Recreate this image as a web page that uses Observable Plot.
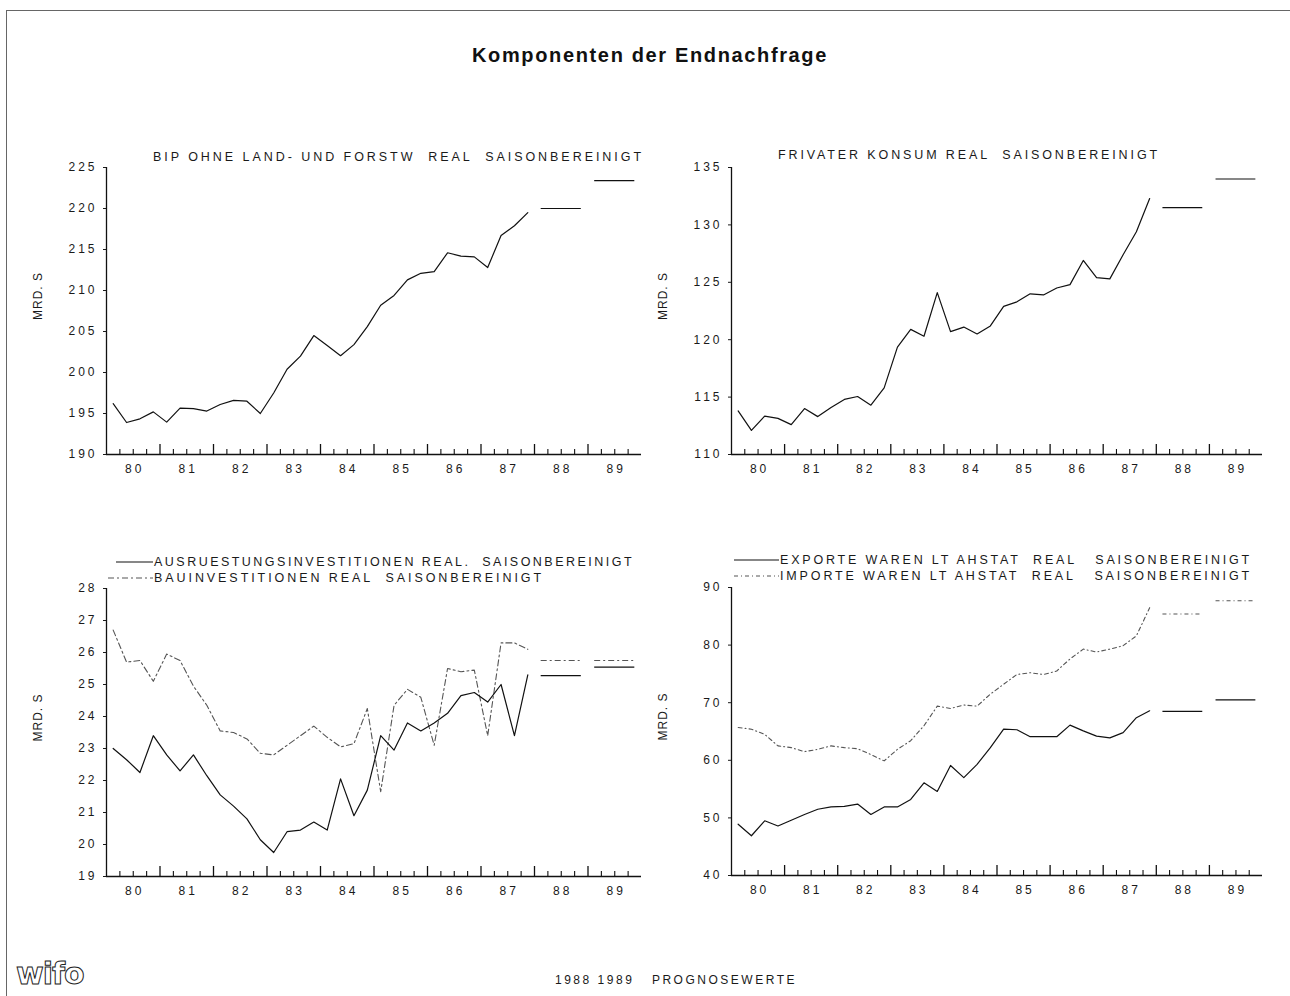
<!DOCTYPE html>
<html>
<head>
<meta charset="utf-8">
<script src="https://cdn.jsdelivr.net/npm/d3@7"></script>
<script src="https://cdn.jsdelivr.net/npm/@observablehq/plot@0.6"></script>
<style>
  html, body { margin: 0; padding: 0; background: #fff; }
  #page { position: relative; width: 1290px; height: 996px; overflow: hidden; background: #fff;
          font-family: "Liberation Sans", Arial, sans-serif; color: #1a1a1a; }
  .abs { position: absolute; white-space: pre; line-height: 1; }
  .plot { position: absolute; }
  #frame { position: absolute; left: 6px; top: 10px; width: 1300px; height: 1000px;
           border-top: 1.5px solid #666; border-left: 1.5px solid #666; }
  .leg { position: absolute; display: flex; align-items: center; white-space: pre; line-height: 1; }
  .leg svg { display: block; }
  .leg span { white-space: pre; }
</style>
</head>
<body>
<div id="page">
  <div id="frame"></div>
</div>
<script>
// ---------------- DATA ----------------
const startYear = 1980;            // first quarter = 1980 Q1, quarterly to 1987 Q4
const yearLabels = [1980, 1981, 1982, 1983, 1984, 1985, 1986, 1987, 1988, 1989];
const forecastYears = [1988, 1989];

const bip = [196.2, 193.9, 194.35, 195.2, 193.95, 195.65, 195.6, 195.3,
             196.1, 196.6, 196.5, 195.0, 197.5, 200.4, 202.0, 204.5,
             203.3, 202.05, 203.4, 205.6, 208.2, 209.4, 211.3, 212.1,
             212.3, 214.6, 214.2, 214.1, 212.8, 216.7, 217.9, 219.5];
const bipForecast = [220.0, 223.4];

const konsum = [113.8, 112.1, 113.35, 113.15, 112.6, 114.0, 113.3, 114.1,
                114.8, 115.05, 114.3, 115.8, 119.35, 120.9, 120.3, 124.1,
                120.7, 121.1, 120.5, 121.2, 122.9, 123.3, 124.0, 123.9,
                124.5, 124.8, 126.9, 125.4, 125.3, 127.4, 129.4, 132.3];
const konsumForecast = [131.5, 134.0];

const ausruestung = [23.0, 22.65, 22.25, 23.4, 22.8, 22.3, 22.8, 22.15,
                     21.55, 21.2, 20.8, 20.15, 19.75, 20.4, 20.45, 20.7,
                     20.45, 22.05, 20.9, 21.7, 23.4, 22.95, 23.8, 23.55,
                     23.8, 24.1, 24.65, 24.75, 24.45, 25.0, 23.4, 25.3];
const ausruestungForecast = [25.28, 25.54];

const bau = [26.7, 25.7, 25.75, 25.1, 25.95, 25.75, 24.95, 24.35,
             23.55, 23.5, 23.3, 22.85, 22.8, 23.1, 23.4, 23.7,
             23.35, 23.05, 23.15, 24.25, 21.65, 24.35, 24.85, 24.6,
             23.1, 25.5, 25.4, 25.45, 23.4, 26.3, 26.3, 26.1];
const bauForecast = [25.75, 25.75];

const exporte = [48.9, 46.9, 49.5, 48.6, 49.6, 50.6, 51.5, 51.9,
                 52.0, 52.4, 50.6, 51.9, 51.9, 53.2, 56.1, 54.6,
                 59.1, 57.0, 59.3, 62.2, 65.4, 65.3, 64.1, 64.1,
                 64.1, 66.1, 65.1, 64.2, 63.9, 64.8, 67.4, 68.6];
const exporteForecast = [68.5, 70.5];

const importe = [65.7, 65.4, 64.5, 62.5, 62.2, 61.5, 61.9, 62.5,
                 62.2, 62.0, 61.0, 59.9, 61.9, 63.4, 66.0, 69.4,
                 69.0, 69.6, 69.4, 71.5, 73.2, 74.9, 75.2, 74.9,
                 75.5, 77.6, 79.3, 78.8, 79.3, 79.9, 81.6, 86.5];
const importeForecast = [85.4, 87.7];

const ticks1 = [190, 195, 200, 205, 210, 215, 220, 225];
const ticks2 = [110, 115, 120, 125, 130, 135];
const ticks3 = [19, 20, 21, 22, 23, 24, 25, 26, 27, 28];
const ticks4 = [40, 50, 60, 70, 80, 90];

const title = "Komponenten der Endnachfrage";
const title1 = "BIP OHNE LAND- UND FORSTW  REAL  SAISONBEREINIGT";
const title2 = "FRIVATER KONSUM REAL  SAISONBEREINIGT";
const legend3 = ["AUSRUESTUNGSINVESTITIONEN REAL.  SAISONBEREINIGT", "BAUINVESTITIONEN REAL  SAISONBEREINIGT"];
const legend4 = ["EXPORTE WAREN LT AHSTAT  REAL   SAISONBEREINIGT", "IMPORTE WAREN LT AHSTAT  REAL   SAISONBEREINIGT"];
const yLabel = "MRD. S";
const footer = "1988 1989   PROGNOSEWERTE";

// ---------------- HELPERS ----------------
const page = document.getElementById("page");
const toQuarterly = (arr) => arr.map((v, i) => ({x: startYear + (i + 0.5) / 4, y: v}));
const toForecast = (arr) => arr.map((v, i) => ({year: forecastYears[i], y: v}));

const DASH3 = "6,3,2,3";
const DASH4 = "4,3,1,3";

function panel({left, top, width, height, mt, mr, mb, ml, domain, ticks, series}) {
  const frameH = height - mt - mb;
  const bounds = d3.range(1, 40).map(k => startYear + k / 4);
  const yearB = bounds.filter(b => Number.isInteger(b));
  const qB = bounds.filter(b => !Number.isInteger(b));
  const marks = [
    Plot.ruleY([domain[0]], {stroke: "#111", strokeWidth: 1.3}),
    Plot.ruleX([startYear], {stroke: "#111", strokeWidth: 1.3}),
    Plot.tickX(qB, {x: d => d, insetTop: frameH - 5, stroke: "#111", strokeWidth: 1.1}),
    Plot.tickX(yearB, {x: d => d, insetTop: frameH - 10, stroke: "#111", strokeWidth: 1.3}),
    Plot.axisX(yearLabels.map(y => y + 0.5), {tickSize: 0, tickPadding: 10, dx: 1.5, label: null,
      tickFormat: d => String(Math.floor(d)).slice(2)}),
    Plot.axisY(ticks, {tickSize: 3, tickPadding: 6, label: null, tickFormat: d => String(d)}),
    Plot.text([yLabel], {text: d => d, frameAnchor: "left", textAnchor: "middle", dx: -68, dy: -15,
      rotate: -90, fontSize: 12})
  ];
  for (const s of series) {
    marks.push(Plot.line(toQuarterly(s.values), {x: "x", y: "y", stroke: s.stroke, strokeWidth: s.width,
      strokeDasharray: s.dash}));
    marks.push(Plot.ruleY(toForecast(s.forecast), {x1: d => d.year + 0.125, x2: d => d.year + 0.875, y: "y",
      stroke: s.fstroke || s.stroke, strokeWidth: s.fwidth || s.width, strokeDasharray: s.dash}));
  }
  const svg = Plot.plot({
    width, height, marginTop: mt, marginRight: mr, marginBottom: mb, marginLeft: ml,
    x: {domain: [startYear, startYear + 10]},
    y: {domain},
    style: {fontFamily: "'Liberation Sans', Arial, sans-serif", fontSize: "12px", letterSpacing: "3px",
            color: "#1a1a1a", background: "transparent", overflow: "visible"},
    marks
  });
  svg.classList.add("plot");
  svg.style.left = left + "px";
  svg.style.top = top + "px";
  page.appendChild(svg);
  // y label: tighter spacing than the tick labels
  svg.querySelectorAll("text").forEach(tx => { if (tx.textContent === yLabel) tx.style.letterSpacing = "1px"; });
}

panel({left: 0, top: 127, width: 660, height: 360, mt: 40, mr: 19, mb: 33, ml: 106,
  domain: [190, 225], ticks: ticks1,
  series: [{values: bip, forecast: bipForecast, stroke: "#111", width: 1.2}]});

panel({left: 640, top: 127, width: 640, height: 360, mt: 40, mr: 18, mb: 33, ml: 91,
  domain: [110, 135], ticks: ticks2,
  series: [{values: konsum, forecast: konsumForecast, stroke: "#111", width: 1.2, fstroke: "#111"}]});

panel({left: 0, top: 560, width: 660, height: 350, mt: 28, mr: 19, mb: 34, ml: 106,
  domain: [19, 28], ticks: ticks3,
  series: [{values: bau, forecast: bauForecast, stroke: "#555", width: 1.1, dash: DASH3},
           {values: ausruestung, forecast: ausruestungForecast, stroke: "#111", width: 1.2}]});

panel({left: 640, top: 560, width: 640, height: 350, mt: 27, mr: 18, mb: 35, ml: 91,
  domain: [40, 90], ticks: ticks4,
  series: [{values: importe, forecast: importeForecast, stroke: "#555", width: 1.1, dash: DASH4},
           {values: exporte, forecast: exporteForecast, stroke: "#111", width: 1.2}]});

// ---------------- TEXT ----------------
function fitText(el, target) {
  el.style.letterSpacing = "0px";
  const w = el.getBoundingClientRect().width;
  const n = el.textContent.length;
  el.style.letterSpacing = ((target - w) / n) + "px";
}
function addText(str, left, cy, target, size, extra) {
  const el = document.createElement("div");
  el.className = "abs";
  el.textContent = str;
  el.style.fontSize = size + "px";
  el.style.left = left + "px";
  el.style.top = (cy - 0.49 * size) + "px";
  if (extra) Object.assign(el.style, extra);
  page.appendChild(el);
  if (target) fitText(el, target);
  return el;
}
function addLegend(str, left, cy, sampleW, textLeft, target, dash, stroke) {
  const wrap = document.createElement("div");
  wrap.className = "leg";
  wrap.style.left = left + "px";
  wrap.style.top = (cy - 6) + "px";
  wrap.style.height = "12px";
  const svg = d3.create("svg").attr("width", textLeft - left).attr("height", 12);
  svg.append("line").attr("x1", textLeft - left - sampleW).attr("x2", textLeft - left - 1)
     .attr("y1", 6).attr("y2", 6).attr("stroke", stroke).attr("stroke-width", 1.2)
     .attr("stroke-dasharray", dash || null);
  wrap.appendChild(svg.node());
  const span = document.createElement("span");
  span.textContent = str;
  span.style.fontSize = "12.5px";
  wrap.appendChild(span);
  page.appendChild(wrap);
  fitText(span, target);
}

addText(title, 472, 55, 356, 20, {fontWeight: "bold", color: "#111"});

addText(title1, 153, 157, 491, 12.5);
addText(title2, 778, 155, 382, 12.5);

addLegend(legend3[0], 114, 562, 38, 154, 480, null, "#111");
addLegend(legend3[1], 104, 578, 46, 154, 390, DASH3, "#555");
addLegend(legend4[0], 732, 560, 46, 780, 472, null, "#111");
addLegend(legend4[1], 732, 576, 46, 780, 472, DASH4, "#555");

addText(footer, 555, 980, 242, 12);

// logo
addText("wifo", 16, 974, null, 30, {fontFamily: "'DejaVu Sans', sans-serif", fontWeight: "bold",
  color: "transparent", webkitTextStroke: "1px #222", letterSpacing: "-1px"});
</script>
</body>
</html>
